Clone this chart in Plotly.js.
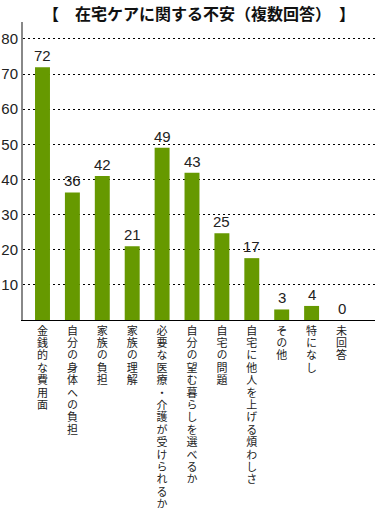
<!DOCTYPE html>
<html>
<head>
<meta charset="utf-8">
<script src="https://cdn.plot.ly/plotly-3.0.1.min.js"></script>
<style>
html,body{margin:0;padding:0;background:#fff;}
#chart{width:375px;height:517px;}
</style>
</head>
<body>
<div id="chart"></div>
<script>
// Data
var categories = [
  "金銭的な費用面",
  "自分の身体への負担",
  "家族の負担",
  "家族の理解",
  "必要な医療・介護が受けられるか",
  "自分の望む暮らしを選べるか",
  "自宅の問題",
  "自宅に他人を上げる煩わしさ",
  "その他",
  "特になし",
  "未回答"
];
var counts = [72, 36, 42, 21, 49, 43, 25, 17, 3, 4, 0];          // printed labels
var barHeights = [71.9, 36.3, 41, 21, 49, 41.9, 24.7, 17.6, 3, 4, 0]; // bar heights as drawn
var yTickVals = [10, 20, 30, 40, 50, 60, 70, 80];
var titleText = "【　在宅ケアに関する不安（複数回答）　】";

var trace = {
  type: "bar",
  x: categories,
  y: barHeights,
  marker: {color: "#669900", line: {width: 0}},
  width: 0.5,
  hoverinfo: "skip"
};

var annotations = categories.map(function(c, i){
  return {
    x: c, y: barHeights[i], xref: "x", yref: "y",
    text: String(counts[i]),
    showarrow: false, yanchor: "bottom", yshift: 1,
    font: {family: "Liberation Sans, Arial, sans-serif", size: 15, color: "#222"}
  };
});

var layout = {
  width: 375, height: 517,
  margin: {l: 23, r: 0, t: 22, b: 197, pad: 0},
  paper_bgcolor: "#fff", plot_bgcolor: "#fff",
  showlegend: false,
  title: {
    text: titleText,
    font: {family: "Noto Sans CJK JP, sans-serif", size: 16, color: "#111", weight: "bold"},
    x: 0.5, xref: "paper", xanchor: "center",
    y: 1 - 14/517, yref: "container", yanchor: "middle",
    pad: {t: 0, b: 0}
  },
  xaxis: {
    type: "category",
    range: [-0.652, 11.12],
    tickmode: "array",
    tickvals: categories,
    ticktext: categories,
    tickangle: 0,
    ticks: "",
    showgrid: false,
    showline: true, linecolor: "#000", linewidth: 1,
    tickfont: {family: "Noto Sans CJK JP, sans-serif", size: 11, color: "#222"},
    fixedrange: true
  },
  yaxis: {
    range: [0, 84.8],
    tickmode: "array",
    tickvals: yTickVals,
    ticks: "",
    showgrid: true, gridcolor: "#000", gridwidth: 1, griddash: "2px,3px",
    zeroline: false,
    showline: true, linecolor: "#888", linewidth: 2,
    tickfont: {family: "Liberation Sans, Arial, sans-serif", size: 15, color: "#222"},
    fixedrange: true
  },
  annotations: annotations
};

var gd = document.getElementById("chart");
Plotly.newPlot(gd, [trace], layout, {displayModeBar: false, staticPlot: true}).then(function(){
  // Render category labels in vertical (tategaki) writing, as in the reference
  var xa = gd._fullLayout.xaxis;
  var top = gd._fullLayout._size.t + gd._fullLayout._size.h + 5;
  var texts = gd.querySelectorAll(".xaxislayer-above .xtick text");
  texts.forEach(function(t, i){
    var cx = xa._offset + xa.l2p(i);
    t.removeAttribute("transform");
    t.setAttribute("x", cx);
    t.setAttribute("y", top);
    t.setAttribute("text-anchor", "start");
    t.style.writingMode = "vertical-rl";
    t.style.letterSpacing = "1.4px";
  });
});
</script>
</body>
</html>
